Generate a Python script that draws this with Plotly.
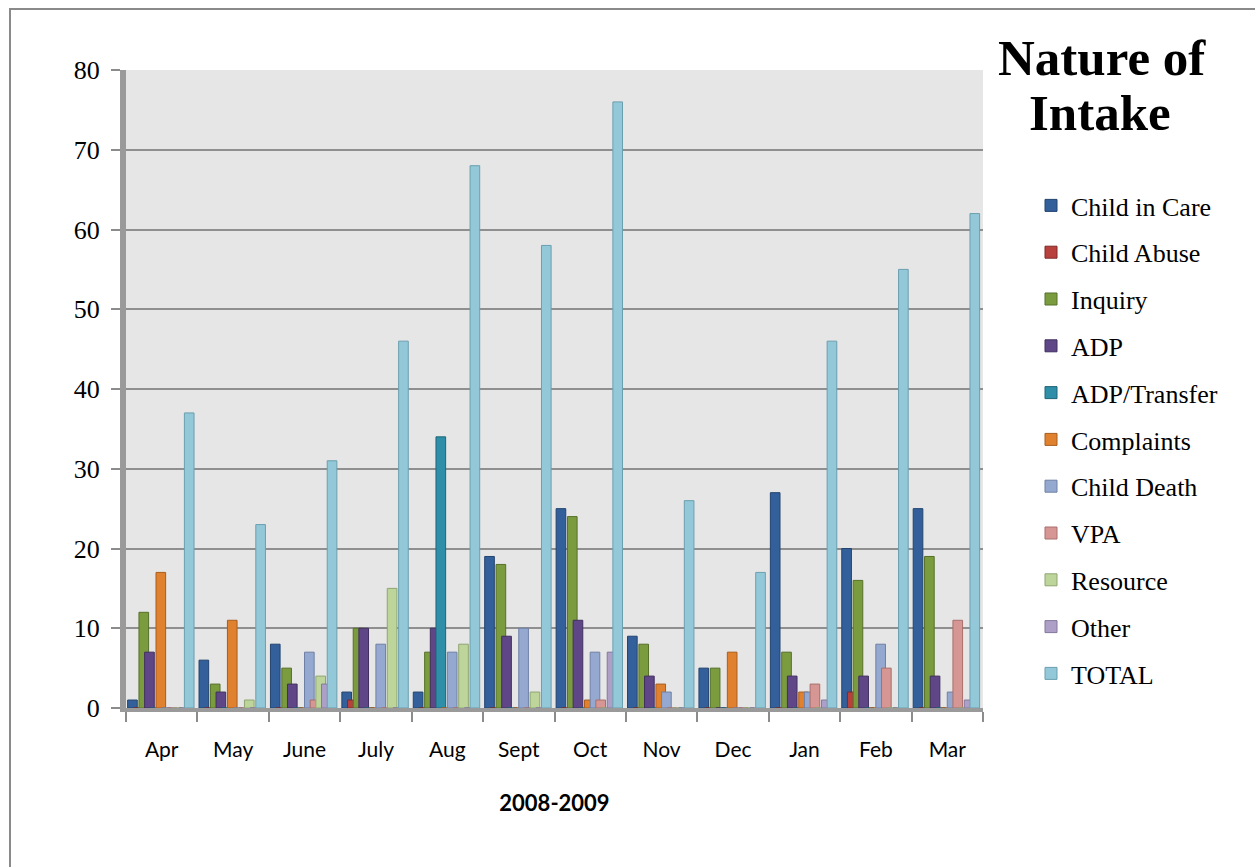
import plotly.graph_objects as go

months = ["Apr", "May", "June", "July", "Aug", "Sept", "Oct", "Nov", "Dec", "Jan", "Feb", "Mar"]

child_in_care = [1, 6, 8, 2, 2, 19, 25, 9, 5, 27, 20, 25]
child_abuse   = [0, 0, 0, 1, 0, 0, 0, 0, 0, 0, 2, 0]
inquiry       = [12, 3, 5, 10, 7, 18, 24, 8, 5, 7, 16, 19]
adp           = [7, 2, 3, 10, 10, 9, 11, 4, 0, 4, 4, 4]
adp_transfer  = [0, 0, 0, 0, 34, 0, 0, 0, 0, 0, 0, 0]
complaints    = [17, 11, 0, 0, 0, 0, 1, 3, 7, 2, 0, 0]
child_death   = [0, 0, 7, 8, 7, 10, 7, 2, 0, 2, 8, 2]
vpa           = [0, 0, 1, 0, 0, 0, 1, 0, 0, 3, 5, 11]
resource      = [0, 1, 4, 15, 8, 2, 0, 0, 0, 0, 0, 0]
other         = [0, 0, 3, 0, 0, 0, 7, 0, 0, 1, 0, 1]
total         = [37, 23, 31, 46, 68, 58, 76, 26, 17, 46, 55, 62]

series = [
    ("Child in Care", child_in_care, "#33609b", "#22446f"),
    ("Child Abuse", child_abuse, "#b8403d", "#7e2a28"),
    ("Inquiry", inquiry, "#7b9b3f", "#56702a"),
    ("ADP", adp, "#5f4686", "#41305e"),
    ("ADP/Transfer", adp_transfer, "#2f8ea8", "#1f6578"),
    ("Complaints", complaints, "#e0812f", "#a95d1e"),
    ("Child Death", child_death, "#95a8cf", "#6f80a6"),
    ("VPA", vpa, "#d69794", "#a86f6c"),
    ("Resource", resource, "#bdd49b", "#8fa671"),
    ("Other", other, "#ae9fc6", "#84779d"),
    ("TOTAL", total, "#93c8d8", "#6b9fb0"),
]

# slightly overlapping columns inside each month (category units)
BAR_W = 0.135
STEP = 0.0795
FIRST = -0.41

fig = go.Figure()
for i, (name, vals, fill, edge) in enumerate(series):
    centre = FIRST + i * STEP
    fig.add_trace(go.Bar(
        name=name, x=months, y=vals,
        width=BAR_W, offset=centre - BAR_W / 2,
        legendgroup=name,
        marker=dict(color=fill, line=dict(color=edge, width=1)),
    ))

L, R, T, B = 126, 272, 70, 159
W, H = 1255, 867
pw, ph = W - L - R, H - T - B


def px_x(p):
    return (p - L) / pw


def px_y(p):
    return (H - B - p) / ph


fig.update_layout(
    width=W, height=H,
    margin=dict(l=L, r=R, t=T, b=B),
    paper_bgcolor="white",
    plot_bgcolor="#e6e6e6",
    barmode="overlay",
    showlegend=True,
    legend=dict(
        x=px_x(1031), y=px_y(182),
        xanchor="left", yanchor="top",
        font=dict(family="Liberation Serif", size=26, color="black"),
        tracegroupgap=10, itemwidth=30,
        bgcolor="rgba(0,0,0,0)",
    ),
    xaxis=dict(
        tickfont=dict(family="Lato", size=21, color="black"),
        ticks="outside", tickson="boundaries", ticklen=10, tickcolor="#8c8c8c", tickwidth=2,
        ticklabelstandoff=20,
        showline=True, linecolor="#9a9a9a", linewidth=4,
        title=dict(text="<b>2008-2009</b>", font=dict(family="Lato", size=22, color="black"), standoff=36),
    ),
    yaxis=dict(
        range=[0, 80], dtick=10,
        tickfont=dict(family="Liberation Serif", size=26, color="black"),
        ticks="outside", ticklen=9, tickcolor="#8c8c8c", tickwidth=2,
        ticklabelstandoff=6,
        showgrid=True, gridcolor="#8f8f8f", gridwidth=2,
        showline=True, linecolor="#9a9a9a", linewidth=6,
        zeroline=False,
    ),
    annotations=[
        dict(text="<b>Nature of</b>", xref="paper", yref="paper",
             x=px_x(1102), y=px_y(88), xanchor="center", yanchor="bottom",
             showarrow=False, font=dict(family="Liberation Serif", size=51, color="black")),
        dict(text="<b>Intake</b>", xref="paper", yref="paper",
             x=px_x(1100), y=px_y(143), xanchor="center", yanchor="bottom",
             showarrow=False, font=dict(family="Liberation Serif", size=51, color="black")),
    ],
    shapes=[dict(
        type="rect", xref="paper", yref="paper",
        x0=px_x(10), x1=px_x(1300),
        y0=px_y(900), y1=px_y(9),
        line=dict(color="#8a8a8a", width=2), fillcolor="rgba(0,0,0,0)",
        layer="below",
    )],
)

fig.write_html("out.html")
